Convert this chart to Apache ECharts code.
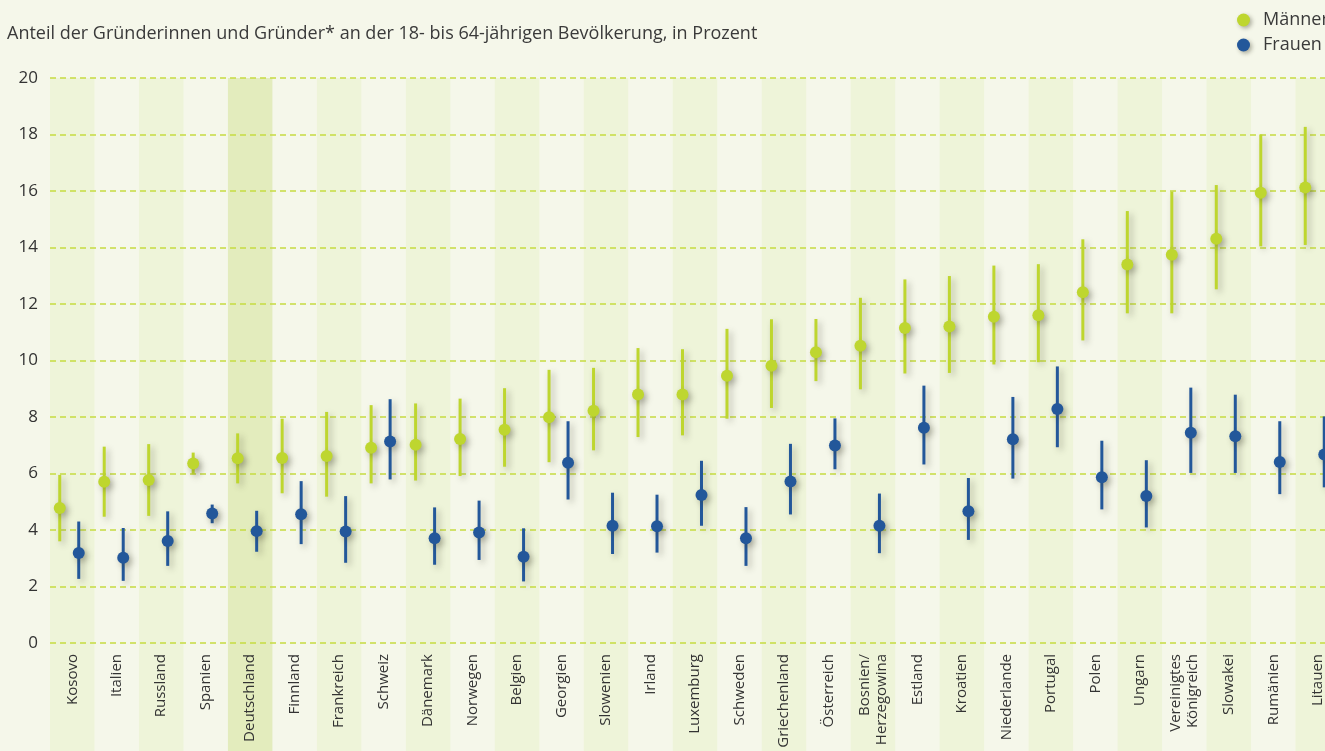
<!DOCTYPE html>
<html><head><meta charset="utf-8">
<script src="https://cdn.jsdelivr.net/npm/echarts@6/dist/echarts.min.js"></script>
<style>html,body{margin:0;padding:0;background:#f5f7ea;overflow:hidden;width:1325px;height:751px;}#c{width:1341px;height:751px;}</style>
</head><body><div id="c"></div>
<script>
const categories = ["Kosovo","Italien","Russland","Spanien","Deutschland","Finnland","Frankreich","Schweiz","Dänemark","Norwegen","Belgien","Georgien","Slowenien","Irland","Luxemburg","Schweden","Griechenland","Österreich","Bosnien/\nHerzegowina","Estland","Kroatien","Niederlande","Portugal","Polen","Ungarn","Vereinigtes\nKönigreich","Slowakei","Rumänien","Litauen"];
const menMid  = [4.78,5.71,5.77,6.35,6.54,6.55,6.62,6.91,7.02,7.22,7.55,7.99,8.22,8.80,8.80,9.46,9.81,10.29,10.52,11.15,11.20,11.55,11.60,12.42,13.40,13.74,14.31,15.94,16.12];
const menLow  = [3.60,4.47,4.50,5.97,5.65,5.30,5.18,5.65,5.75,5.91,6.24,6.40,6.82,7.29,7.35,7.94,8.32,9.27,8.98,9.54,9.56,9.86,9.94,10.71,11.67,11.67,12.52,14.04,14.09];
const menHigh = [5.95,6.95,7.04,6.74,7.42,7.94,8.18,8.42,8.48,8.65,9.02,9.67,9.74,10.44,10.40,11.12,11.46,11.47,12.22,12.87,12.99,13.36,13.41,14.29,15.29,15.98,16.21,18.00,18.27];
const womenMid  = [3.19,3.02,3.61,4.58,3.96,4.56,3.95,7.13,3.71,3.91,3.05,6.38,4.15,4.13,5.24,3.71,5.72,6.99,4.15,7.62,4.66,7.21,8.28,5.87,5.20,7.44,7.32,6.41,6.67];
const womenLow  = [2.27,2.20,2.73,4.24,3.23,3.50,2.84,5.79,2.77,2.94,2.18,5.08,3.15,3.20,4.15,2.73,4.55,6.15,3.18,6.32,3.65,5.82,6.93,4.73,4.09,6.02,6.02,5.27,5.51];
const womenHigh = [4.30,4.07,4.66,4.90,4.68,5.73,5.20,8.63,4.80,5.04,4.06,7.85,5.32,5.25,6.45,4.81,7.05,7.95,5.29,9.11,5.84,8.71,9.79,7.16,6.47,9.04,8.79,7.85,8.02];
const highlighted = "Deutschland";
const yTicks = [0,2,4,6,8,10,12,14,16,18,20];

const FONT = "Open Sans";
const MEN = "#bed62f", WOMEN = "#23579a";
const chart = echarts.init(document.getElementById('c'), null, {renderer:'canvas'});

function errRender(offset, color){
  return function(params, api){
    const cx = api.coord([api.value(0), 0])[0] + offset;
    const yl = api.coord([api.value(0), api.value(1)])[1];
    const yh = api.coord([api.value(0), api.value(2)])[1];
    const ym = api.coord([api.value(0), api.value(3)])[1];
    const sh = {shadowBlur:6, shadowColor:'rgba(60,60,40,0.35)', shadowOffsetX:3, shadowOffsetY:3};
    return {type:'group', children:[
      {type:'line', shape:{x1:cx,y1:yh,x2:cx,y2:yl}, style:Object.assign({stroke:color, lineWidth:3}, sh)},
      {type:'circle', shape:{cx:cx, cy:ym, r:6}, style:Object.assign({fill:color}, sh)}
    ]};
  };
}

const bandData = categories.map((c,i)=>[i, c===highlighted ? 2 : (i%2===0 ? 1 : 0)]);

chart.setOption({
  backgroundColor:'#f5f7ea',
  animation:false,
  textStyle:{fontFamily:FONT},
  title:{text:'Anteil der Gründerinnen und Gründer* an der 18- bis 64-jährigen Bevölkerung, in Prozent', left:2, top:20,
    textStyle:{fontFamily:FONT, fontSize:18, fontWeight:'normal', color:'#3a3a3a'}},
  legend:{data:['Männer','Frauen'], orient:'vertical', left:1232, top:6, icon:'circle', itemWidth:13, itemHeight:13, itemGap:7,
    textStyle:{fontFamily:FONT, fontSize:18, color:'#3a3a3a', padding:[0,0,0,8]},
    itemStyle:{shadowBlur:4, shadowColor:'rgba(60,60,40,0.4)', shadowOffsetX:2, shadowOffsetY:2}},
  grid:{left:50, top:78, width:1290, height:565, containLabel:false},
  xAxis:{type:'category', data:categories, boundaryGap:true,
    axisLine:{show:false}, axisTick:{show:false}, splitLine:{show:false},
    axisLabel:{rotate:90, interval:0, margin:11, fontSize:15, color:'#333', fontFamily:FONT, lineHeight:17}, z:1},
  yAxis:{type:'value', min:0, max:20, interval:2,
    axisLine:{show:false}, axisTick:{show:false},
    axisLabel:{margin:12, fontSize:17, color:'#333', fontFamily:FONT, formatter:v=>yTicks.includes(v)?String(v):''},
    splitLine:{lineStyle:{color:'#c6dc42', type:[6,4], width:1.5}}, z:1},
  series:[
    {name:'bands', type:'custom', silent:true, clip:false, z:0, data:bandData, encode:{x:0,y:1},
      renderItem:function(params, api){
        const k = api.value(1);
        if(!k) return null;
        const c = api.coord([api.value(0), 20]);
        const w = api.size([1,0])[0];
        return {type:'rect', shape:{x:c[0]-w/2, y:c[1], width:w, height:api.getHeight()-c[1]},
          style:{fill: k===2 ? '#e3ecbd' : '#eef4d9'}};
      }},
    {name:'Männer', type:'custom', z:3, clip:false, itemStyle:{color:MEN},
      data:categories.map((c,i)=>[i, menLow[i], menHigh[i], menMid[i]]), encode:{x:0, y:[1,2,3]},
      renderItem:errRender(-12.5, MEN)},
    {name:'Frauen', type:'custom', z:4, clip:false, itemStyle:{color:WOMEN},
      data:categories.map((c,i)=>[i, womenLow[i], womenHigh[i], womenMid[i]]), encode:{x:0, y:[1,2,3]},
      renderItem:errRender(6.5, WOMEN)}
  ]
});
</script></body></html>
